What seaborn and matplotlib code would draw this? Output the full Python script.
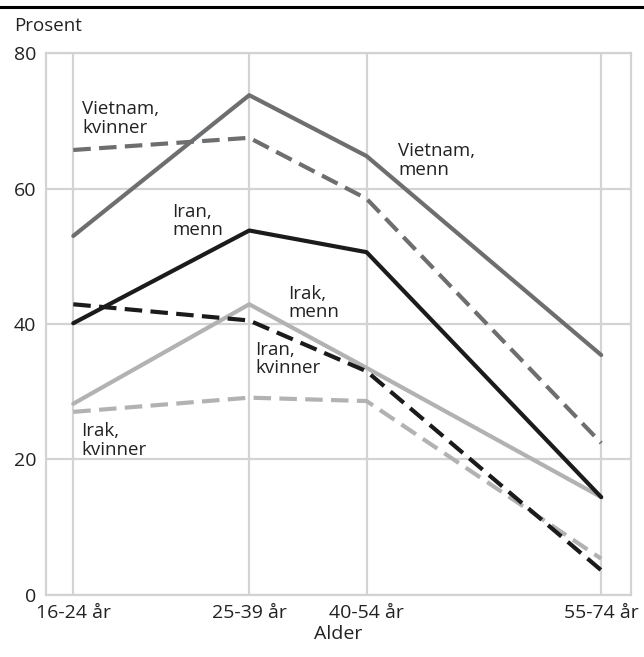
#!/usr/bin/env python3
## line chart: share (prosent) by age group, country of birth and gender

import pandas as pd
import matplotlib
matplotlib.use("Agg")
import matplotlib.pyplot as plt
from matplotlib.lines import Line2D
import seaborn as sb

age_labels = ["16-24 år", "25-39 år", "40-54 år", "55-74 år"]
age_pos = [0, 3, 5, 9]  # uneven spacing as in the original chart

vietnam_menn = [53.0, 73.8, 64.8, 35.4]
vietnam_kvinner = [65.7, 67.5, 58.5, 22.4]
iran_menn = [40.1, 53.8, 50.6, 14.4]
iran_kvinner = [42.9, 40.5, 33.0, 3.6]
irak_menn = [28.2, 42.9, 33.5, 14.4]
irak_kvinner = [27.0, 29.1, 28.6, 5.3]

series = {
    ("Irak", "kvinner"): irak_kvinner,
    ("Irak", "menn"): irak_menn,
    ("Iran", "kvinner"): iran_kvinner,
    ("Iran", "menn"): iran_menn,
    ("Vietnam", "kvinner"): vietnam_kvinner,
    ("Vietnam", "menn"): vietnam_menn,
}

rows = []
for (land, kjonn), vals in series.items():
    for x, v in zip(age_pos, vals):
        rows.append({"land": land, "kjonn": kjonn, "x": x, "prosent": v})
df = pd.DataFrame(rows)

sb.set_style("white")
plt.rcParams["font.family"] = ["Open Sans", "DejaVu Sans"]

grid_col = "#d3d3d3"
palette = {"Vietnam": "#6d6e70", "Iran": "#1c1a1b", "Irak": "#b1b2b4"}

fig = plt.figure(figsize=(6.44, 6.57), dpi=100)
ax = fig.add_axes([0.071, 0.095, 0.909, 0.824])

ax.grid(True, color=grid_col, lw=1.6)
ax.set_axisbelow(True)

sb.lineplot(data=df, x="x", y="prosent", hue="land", style="kjonn",
            hue_order=["Irak", "Iran", "Vietnam"], style_order=["menn", "kvinner"],
            palette=palette, dashes={"menn": "", "kvinner": (4.2, 2.0)},
            lw=3.0, legend=False, ax=ax)

ax.set_xlim(-0.47, 9.51)
ax.set_ylim(0, 80)
ax.set_xticks(age_pos)
ax.set_xticklabels(age_labels)
ax.set_yticks([0, 20, 40, 60, 80])
ax.tick_params(length=0, labelsize=14, colors="#222222", pad=7)
ax.set_xlabel("Alder", fontsize=14, color="#222222", labelpad=2)
ax.set_ylabel("")
for s in ax.spines.values():
    s.set_color(grid_col)
    s.set_linewidth(1.6)

labels = [
    ("Vietnam,\nkvinner", 0.15, 70.4),
    ("Vietnam,\nmenn", 5.54, 64.1),
    ("Iran,\nmenn", 1.69, 55.2),
    ("Irak,\nmenn", 3.66, 43.1),
    ("Iran,\nkvinner", 3.10, 34.8),
    ("Irak,\nkvinner", 0.14, 22.8),
]
for txt, x, y in labels:
    ax.text(x, y, txt, fontsize=13.5, color="#222222", ha="left", va="center",
            linespacing=1.05)

fig.text(0.022, 0.961, "Prosent", fontsize=13.5, color="#222222", va="center")
fig.add_artist(Line2D([0, 1], [0.990, 0.990], transform=fig.transFigure,
                      color="black", lw=2.2))

fig.savefig("out.png", dpi=100)
plt.close(fig)
